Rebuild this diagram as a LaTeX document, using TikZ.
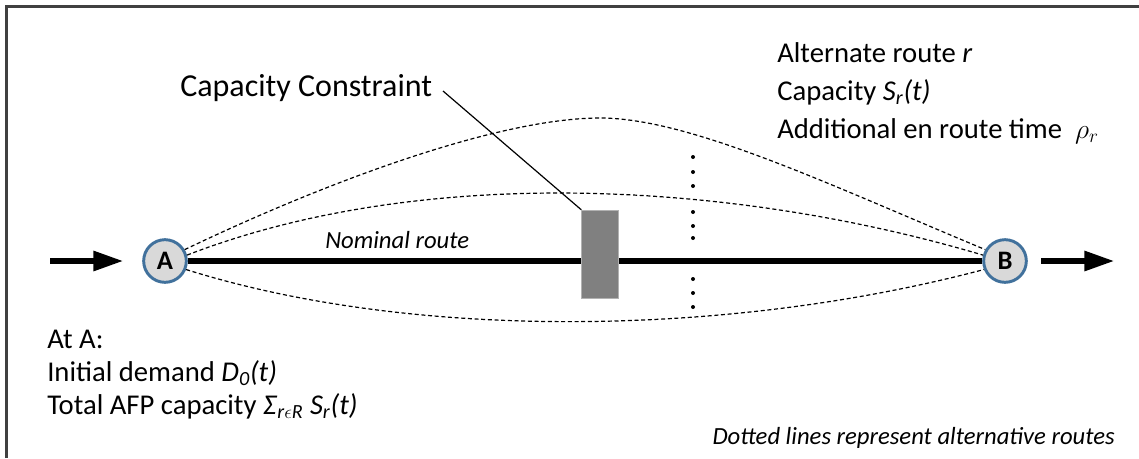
\documentclass[tikz,border=0pt]{standalone}
\usepackage{fontspec}
\setmainfont{Carlito}
\usetikzlibrary{arrows.meta}
\definecolor{nodeblue}{HTML}{41719C}
\definecolor{nodefill}{HTML}{D9D9D9}
\definecolor{framegray}{HTML}{404040}
\tikzset{
  place/.style={circle, draw=nodeblue, fill=nodefill, line width=2.2pt, minimum size=32pt, inner sep=0pt, font=\fontsize{20}{20}\selectfont\bfseries},
  flow/.style={line width=5pt, -{Triangle[length=23pt,width=14pt]}},
  nominal/.style={line width=4.5pt},
  altroute/.style={line width=0.9pt, dash pattern=on 3pt off 2pt},
  leader/.style={line width=0.9pt},
  bigtext/.style={inner sep=0pt, anchor=base west, font=\fontsize{24}{24}\selectfont},
  infotext/.style={inner sep=0pt, anchor=base west, font=\fontsize{21.5}{21.5}\selectfont},
  smalltext/.style={inner sep=0pt, font=\fontsize{18.5}{18.5}\selectfont\itshape},
  dotmark/.style={circle, fill=black, inner sep=0pt, minimum size=3pt},
  constraint/.style={fill=black!50, draw=black!30, line width=0.6pt}
}
\begin{document}
\begin{tikzpicture}[x=0.75pt,y=-0.75pt]
\useasboundingbox (0,0) rectangle (1139,458);
\fill[white] (0,0) rectangle (1139,458);
% frame
\draw[framegray, line width=1.6pt] (6.5,458) -- (6.5,6.5) -- (1139,6.5);

% nodes
\node[place] (A) at (165,261) {A};
\node[place] (B) at (1005,261) {B};
\coordinate (inS) at (50,261);
\coordinate (inE) at (124,261);
\coordinate (outS) at (1041,261);
\coordinate (outE) at (1115,261);
\coordinate (topmid) at (600,118);

% alternate routes
\draw[altroute] (A.30) .. controls (330,180) and (500,118) .. (topmid)
                 .. controls (690,118) and (830,185) .. (B.150);
\draw[altroute] (A.15) .. controls (420,165) and (730,180) .. (B.165);
\draw[altroute] (A.-22) .. controls (410,340) and (725,338) .. (B.-158);

% nominal route
\draw[nominal] (A) -- (B);
\node[smalltext, anchor=base west] (nom) at (325,248) {Nominal route};

% constraint
\node[constraint, minimum width=27.5pt, minimum height=66.5pt, inner sep=0pt] (C) at (600,254.5) {};
\node[bigtext] (cc) at (180,96) {Capacity Constraint};
\coordinate (ccend) at (443,91);
\draw[leader] (ccend) -- (C.north west);

% in/out flows
\draw[flow] (inS) -- (inE);
\draw[flow] (outS) -- (outE);

% dots
\foreach \yy/\nm in {157/d1,172/d2,186/d3,212/d4,226/d5,238/d6,279/d7,293/d8,307/d9}
  \node[dotmark] (\nm) at (693,\yy) {};

% labels right
\node[infotext] (l1) at (777,62) {Alternate route \textit{r}};
\node[infotext] (l2) at (777,100) {Capacity \textit{S}\textsubscript{\textit{r}}\textit{(t)}};
\node[infotext] (l3) at (777,138) {Additional en route time \ $\rho_r$};

% labels left
\node[infotext] (a1) at (47,348) {At A:};
\node[infotext] (a2) at (47,381) {Initial demand \textit{D}\textsubscript{\textit{0}}\textit{(t)}};
\node[infotext] (a3) at (47,414) {Total AFP capacity \textit{Σ}\textsubscript{\textit{r}$\epsilon$\textit{R}} \textit{S}\textsubscript{\textit{r}}\textit{(t)}};

\node[smalltext, anchor=base east] (note) at (1115,444) {Dotted lines represent alternative routes};
\end{tikzpicture}
\end{document}
